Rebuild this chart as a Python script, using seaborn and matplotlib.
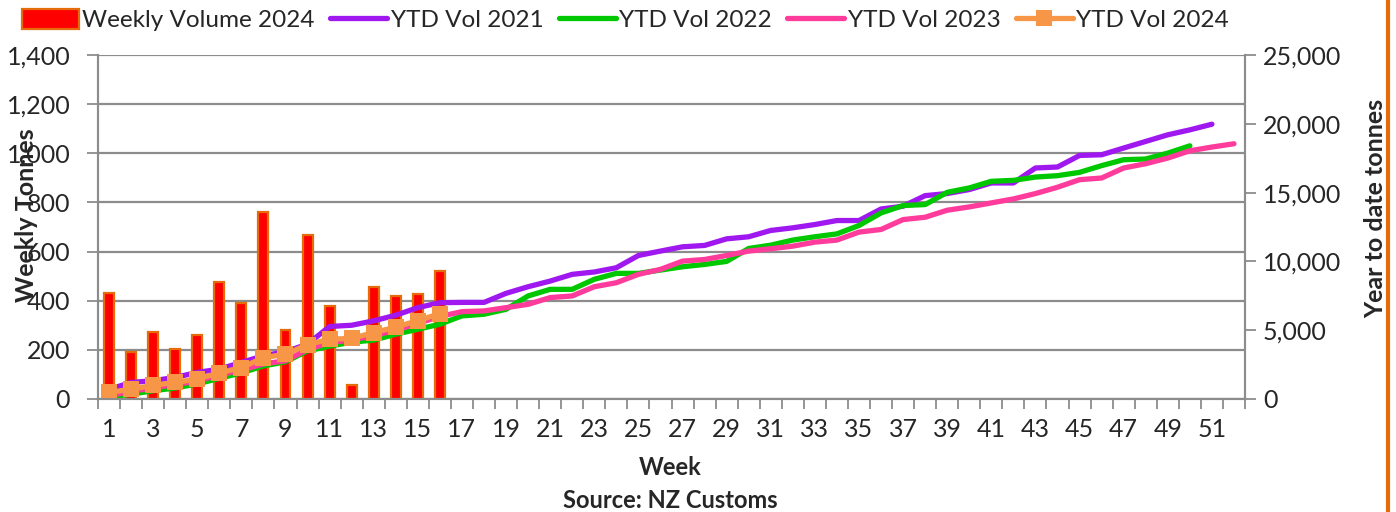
import matplotlib
matplotlib.use("Agg")
import matplotlib.pyplot as plt
import numpy as np
import seaborn as sns
from matplotlib.lines import Line2D
from matplotlib.patches import Patch
from matplotlib.ticker import FuncFormatter

# weekly tonnes 2024 (left axis)
weeks_2024 = list(range(1, 17))
weekly_2024 = [433, 192, 273, 203, 261, 477, 390, 763, 280, 667, 379, 57, 456, 419, 426, 521]

# year-to-date tonnes (right axis)
ytd_2021 = [700, 1200, 1330, 1570, 1930, 2170, 2660, 3140, 3430, 3990,
            5270, 5360, 5680, 6090, 6640, 7000, 7020, 7020, 7680, 8160,
            8570, 9060, 9230, 9540, 10430, 10750, 11060, 11160, 11640, 11790,
            12250, 12440, 12680, 12970, 12970, 13810, 14010, 14780, 14930, 15220,
            15700, 15700, 16790, 16860, 17700, 17750, 18240, 18720, 19200, 19560,
            19970]
ytd_2022 = [150, 350, 600, 800, 1100, 1500, 1900, 2400, 2700, 3500,
            3840, 4130, 4280, 4710, 5070, 5435, 6040, 6160, 6520, 7490,
            7970, 7970, 8700, 9130, 9130, 9370, 9610, 9780, 10000, 10940,
            11180, 11550, 11790, 12000, 12610, 13520, 14060, 14130, 15020, 15340,
            15820, 15890, 16130, 16230, 16470, 16960, 17390, 17440, 17870, 18400]
ytd_2023 = [250, 550, 820, 1050, 1300, 1750, 2100, 2550, 2780, 3600,
            4100, 4300, 4600, 5000, 5500, 6000, 6350, 6400, 6640, 6880,
            7370, 7490, 8160, 8450, 9060, 9420, 10020, 10140, 10430, 10750,
            10920, 11110, 11400, 11550, 12130, 12320, 13040, 13210, 13720, 13960,
            14250, 14540, 14930, 15390, 15940, 16060, 16790, 17100, 17510, 18040,
            18310, 18550]
ytd_2024 = [480, 700, 1000, 1200, 1450, 1900, 2280, 3000, 3260, 3950,
            4350, 4400, 4830, 5220, 5700, 6200]

n_weeks = 52
left_ticks = list(range(0, 1401, 200))
right_ticks = list(range(0, 25001, 5000))

RED = "#FF0000"
BAR_EDGE = "#E46C0A"
PURPLE = "#A018F0"
GREEN = "#00C800"
PINK = "#FF3C9C"
ORANGE = "#F79646"
GRID = "#8C8C8C"

sns.set_theme(style="white")
plt.rcParams["font.family"] = ["Lato", "DejaVu Sans"]

fig = plt.figure(figsize=(13.96, 5.12), dpi=100)
ax = fig.add_axes([98 / 1396, 113 / 512, 1147 / 1396, 344 / 512])

sns.barplot(x=weeks_2024, y=weekly_2024, native_scale=True, width=0.45,
            color=RED, saturation=1, edgecolor=BAR_EDGE, linewidth=1.6, ax=ax)

ax2 = ax.twinx()
series = [
    ("YTD Vol 2021", ytd_2021, PURPLE),
    ("YTD Vol 2022", ytd_2022, GREEN),
    ("YTD Vol 2023", ytd_2023, PINK),
]
for label, values, color in series:
    sns.lineplot(x=np.arange(1, len(values) + 1), y=values, color=color,
                 linewidth=3.8, ax=ax2, legend=False)
sns.lineplot(x=np.arange(1, len(ytd_2024) + 1), y=ytd_2024, color=ORANGE,
             linewidth=3.8, marker="s", markersize=11, markeredgewidth=0,
             ax=ax2, legend=False)

ax.set_xlim(0.5, n_weeks + 0.5)
ax.set_ylim(0, 1400)
ax2.set_ylim(0, 25000)
ax.set_yticks(left_ticks)
ax2.set_yticks(right_ticks)
comma = FuncFormatter(lambda v, _: f"{int(v):,}")
ax.yaxis.set_major_formatter(comma)
ax2.yaxis.set_major_formatter(comma)

ax.set_xticks(np.arange(0.5, n_weeks + 1, 1))
ax.set_xticklabels([])
ax.set_xticks(range(1, n_weeks, 2), minor=True)
ax.set_xticklabels([str(w) for w in range(1, n_weeks, 2)], minor=True)
ax.tick_params(axis="x", which="major", direction="out", length=7, width=1.3,
               color=GRID, bottom=True)
ax.tick_params(axis="x", which="minor", length=0, pad=14, labelsize=18)
ax.tick_params(axis="y", direction="out", length=8, width=1.3, color=GRID,
               left=True, labelsize=18, pad=12)
ax2.tick_params(axis="y", direction="out", length=8, width=1.3, color=GRID,
                right=True, labelsize=18, pad=5)

ax.yaxis.grid(True, color=GRID, linewidth=1.6)
ax.xaxis.grid(False)
ax.set_axisbelow(True)
for a in (ax, ax2):
    a.spines["top"].set_visible(False)
    for side in ("left", "right", "bottom"):
        a.spines[side].set_color(GRID)
        a.spines[side].set_linewidth(1.5)

ax.set_xlabel("")
ax.set_ylabel("Weekly Tonnes", fontsize=18, fontweight="bold")
ax.yaxis.set_label_coords(-0.052, 0.535)
ax2.set_ylabel("Year to date tonnes", fontsize=18, fontweight="bold")
ax2.yaxis.set_label_coords(1.104, 0.555)

fig.text(0.48, 0.086, "Week", ha="center", va="center", fontsize=17,
         fontweight="bold")
fig.text(0.48, 0.023, "Source: NZ Customs", ha="center", va="center",
         fontsize=17, fontweight="bold")

handles = [
    Patch(facecolor=RED, edgecolor=BAR_EDGE, linewidth=1.6, label="Weekly Volume 2024"),
    Line2D([0], [0], color=PURPLE, linewidth=3.8, label="YTD Vol 2021"),
    Line2D([0], [0], color=GREEN, linewidth=3.8, label="YTD Vol 2022"),
    Line2D([0], [0], color=PINK, linewidth=3.8, label="YTD Vol 2023"),
    Line2D([0], [0], color=ORANGE, linewidth=3.8, marker="s", markersize=11,
           markeredgewidth=0, label="YTD Vol 2024"),
]
fig.legend(handles=handles, loc="center", bbox_to_anchor=(0.448, 0.961),
           ncol=5, frameon=False, fontsize=17.5, handlelength=2.35,
           handleheight=0.9, handletextpad=0.15, columnspacing=0.62,
           borderpad=0.2)

fig.add_artist(Line2D([1388 / 1396, 1388 / 1396], [0, 1], color=BAR_EDGE,
                      linewidth=3, transform=fig.transFigure))

fig.savefig("out.png", dpi=100)
